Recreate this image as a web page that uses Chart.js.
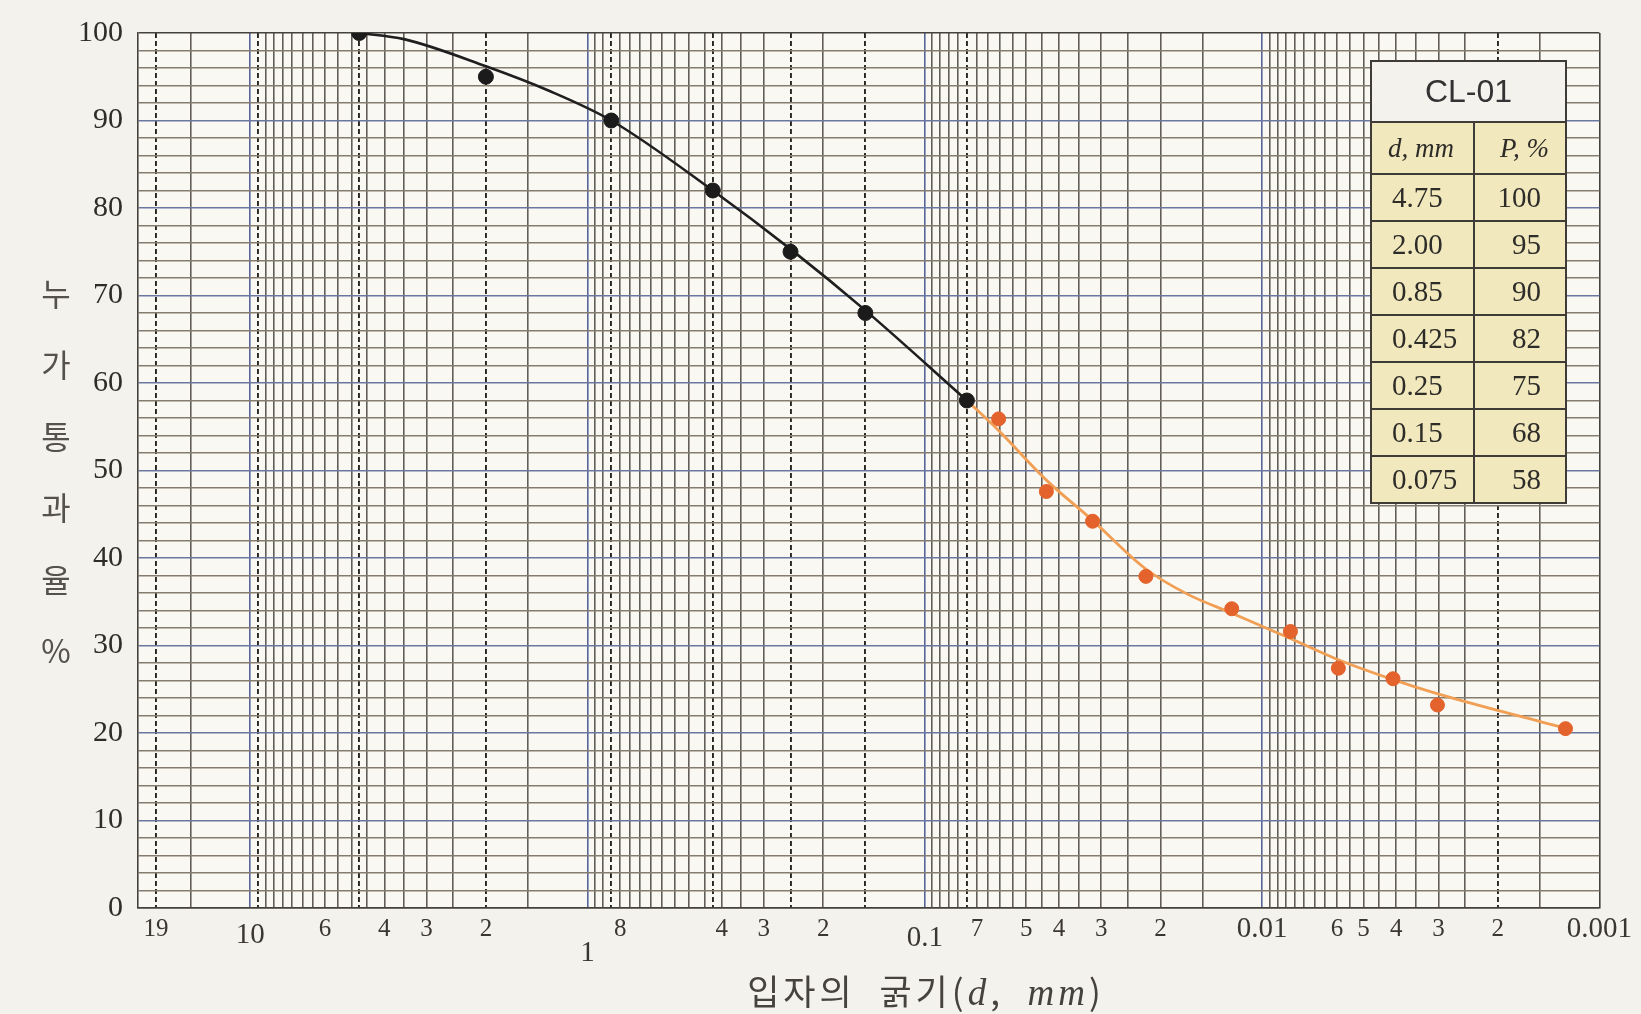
<!DOCTYPE html>
<html>
<head>
<meta charset="utf-8">
<script src="https://cdn.jsdelivr.net/npm/chart.js@4/dist/chart.umd.min.js"></script>
<style>
html,body{margin:0;padding:0;background:#f4f2ec;}
#wrap{position:relative;width:1641px;height:1014px;overflow:hidden;background:#f4f2ec;}
#c{position:absolute;left:0;top:0;}
#ytitle{position:absolute;left:34px;top:257px;width:44px;font-family:'Noto Sans CJK KR',sans-serif;font-size:32px;color:#55524d;text-align:center;line-height:71.4px;}
#xtitle{position:absolute;left:926px;top:964px;transform:translateX(-50%);white-space:nowrap;font-family:'Noto Sans CJK KR',sans-serif;font-size:35px;color:#46433f;letter-spacing:4px;}
#xtitle i{font-family:'Liberation Serif',serif;font-style:italic;font-size:37px;}
#tbl{position:absolute;left:1370px;top:60px;border-collapse:collapse;table-layout:fixed;width:195px;}
#tbl td{border:2px solid #3f3c38;padding:0;font-family:'Liberation Serif',serif;font-size:29px;color:#2e2c29;background:#f1e9bd;}
#tbl td.t{background:#f4f2ec;text-align:center;font-family:'Liberation Sans',sans-serif;font-size:32px;height:59px;color:#333;}
#tbl td.h{font-style:italic;font-size:27px;height:50px;}
#tbl td.c1{text-align:left;padding-left:20px;}
#tbl td.c2{text-align:right;padding-right:24px;}
#tbl tr.r td{height:45px;}
</style>
</head>
<body>
<div id="wrap">
<canvas id="c" width="1641" height="1014"></canvas>
<div id="ytitle"></div>
<div id="xtitle">입자의&nbsp; 굵기(<i>d</i>,&nbsp; <i>mm</i>)</div>
<table id="tbl"></table>
</div>
<script>
// ---- data ----
const sampleName = 'CL-01';
const sieveSizeText = ['4.75', '2.00', '0.85', '0.425', '0.25', '0.15', '0.075'];
const sieveSize = [4.75, 2.00, 0.85, 0.425, 0.25, 0.15, 0.075];
const sievePassing = [100, 95, 90, 82, 75, 68, 58];

const hydroSize = [0.0604, 0.0436, 0.0318, 0.0221, 0.0123, 0.00824, 0.00594, 0.00409, 0.00302, 0.00126];
const hydroPassing = [55.9, 47.6, 44.2, 37.9, 34.2, 31.6, 27.4, 26.2, 23.2, 20.5];

const sieveCurveSize = [4.75, 3.5, 2.0, 1.3, 0.85, 0.425, 0.25, 0.15, 0.075];
const sieveCurvePassing = [100, 99.3, 96.2, 93.4, 90, 82, 75.3, 68.3, 58];

const hydroCurveSize = [0.075, 0.0605, 0.0436, 0.0318, 0.0222, 0.0167, 0.0123, 0.00824, 0.00597, 0.00409, 0.00303, 0.00125];
const hydroCurvePassing = [58, 54.6, 48.9, 44.3, 38.8, 35.9, 33.7, 30.8, 28.4, 26.1, 24.5, 20.5];

const xSolidLines = [15, 10, 9, 8.5, 8, 7.5, 7, 6.5, 6, 5.5, 5, 4.5, 4, 3.5, 3, 2.5, 1.5, 1,
  0.95, 0.9, 0.8, 0.75, 0.7, 0.65, 0.6, 0.55, 0.5, 0.45, 0.4, 0.35, 0.3, 0.2, 0.1,
  0.095, 0.09, 0.085, 0.08, 0.07, 0.065, 0.06, 0.055, 0.05, 0.045, 0.04, 0.035, 0.03, 0.025, 0.02, 0.015, 0.01,
  0.0095, 0.009, 0.0085, 0.008, 0.0075, 0.007, 0.0065, 0.006, 0.0055, 0.005, 0.0045, 0.004, 0.0035, 0.003, 0.0025, 0.0015, 0.001];
const xDashedLines = [19, 9.5, 4.75, 2, 0.85, 0.425, 0.25, 0.15, 0.075, 0.002];
const xDecadeLines = [10, 1, 0.1, 0.01];

const xLabelValues = [19, 10, 6, 4, 3, 2, 1, 0.8, 0.4, 0.3, 0.2, 0.1, 0.07, 0.05, 0.04, 0.03, 0.02, 0.01, 0.006, 0.005, 0.004, 0.003, 0.002, 0.001];
const xLabelTexts = ['19', '10', '6', '4', '3', '2', '1', '8', '4', '3', '2', '0.1', '7', '5', '4', '3', '2', '0.01', '6', '5', '4', '3', '2', '0.001'];

const yMin = 0, yMax = 100, yStep = 2, yLabelStep = 10;
const xMin = 0.001, xMax = 21.5;

const yTitleChars = ['누', '가', '통', '과', '율', '%'];

// ---- helpers ----
const same = (a, b) => Math.abs(Math.log10(a / b)) < 1e-6;
const inList = (v, list) => list.some(d => same(v, d));
const labelIndex = v => xLabelValues.findIndex(d => same(v, d));
const decadeLabels = ['10', '1', '0.1', '0.01', '0.001'];
const labelDrop = { '10': 12, '1': 24, '0.1': 14 };

const allXTicks = [...new Set([...xSolidLines, ...xDashedLines])].sort((a, b) => b - a);

// ---- overlays ----
document.getElementById('ytitle').innerHTML = yTitleChars.map(c => '<div>' + c + '</div>').join('');
(function () {
  let h = '<colgroup><col style="width:103px"><col style="width:92px"></colgroup>';
  h += '<tr><td class="t" colspan="2">' + sampleName + '</td></tr>';
  h += '<tr><td class="h c1" style="padding-left:16px"><i>d</i>, <i>mm</i></td><td class="h c2" style="padding-right:16px"><i>P</i>, %</td></tr>';
  for (let i = 0; i < sieveSize.length; i++) {
    h += '<tr class="r"><td class="c1">' + sieveSizeText[i] + '</td><td class="c2">' + sievePassing[i] + '</td></tr>';
  }
  document.getElementById('tbl').innerHTML = h;
})();

const toXY = (xs, ys) => xs.map((x, i) => ({ x: x, y: ys[i] }));

const bgPlugin = {
  id: 'paper',
  beforeDraw(chart) {
    const { ctx, chartArea: a } = chart;
    ctx.save();
    ctx.fillStyle = '#faf8f2';
    ctx.fillRect(a.left, a.top, a.right - a.left, a.bottom - a.top);
    ctx.restore();
  }
};

new Chart(document.getElementById('c'), {
  type: 'scatter',
  plugins: [bgPlugin],
  data: {
    datasets: [
      {
        label: 'sieve',
        data: toXY(sieveSize, sievePassing),
        pointRadius: 7.5,
        pointBackgroundColor: '#1b1b1b',
        pointBorderColor: '#1b1b1b',
        order: 0
      },
      {
        label: 'hydrometer',
        data: toXY(hydroSize, hydroPassing),
        pointRadius: 7,
        pointBackgroundColor: '#e4622c',
        pointBorderColor: '#e4622c',
        order: 0
      },
      {
        label: 'sieve curve',
        data: toXY(sieveCurveSize, sieveCurvePassing),
        showLine: true,
        pointRadius: 0,
        borderColor: '#1f1f1f',
        borderWidth: 2.6,
        cubicInterpolationMode: 'monotone',
        order: 1
      },
      {
        label: 'hydrometer curve',
        data: toXY(hydroCurveSize, hydroCurvePassing),
        showLine: true,
        pointRadius: 0,
        borderColor: '#f09f55',
        borderWidth: 2.8,
        cubicInterpolationMode: 'monotone',
        order: 1
      }
    ]
  },
  options: {
    responsive: false,
    animation: false,
    devicePixelRatio: 1,
    layout: { padding: { top: 32, right: 33, left: 0, bottom: 0 } },
    plugins: { legend: { display: false }, tooltip: { enabled: false } },
    scales: {
      x: {
        type: 'logarithmic',
        reverse: true,
        min: xMin,
        max: xMax,
        position: 'bottom',
        afterBuildTicks: s => { s.ticks = allXTicks.map(v => ({ value: v })); },
        afterFit: s => { s.height = 106; },
        border: { display: true, color: '#45423e', width: 1.6 },
        grid: {
          drawTicks: false,
          lineWidth: 1.6,
          color: ctx => {
            if (!ctx.tick) return '#5f5a54';
            const v = ctx.tick.value;
            if (inList(v, xDashedLines)) return 'rgba(0,0,0,0)';
            if (same(v, xMin)) return '#45423e';
            if (inList(v, xDecadeLines)) return '#56669a';
            return '#625d57';
          }
        },
        ticks: {
          autoSkip: false,
          maxRotation: 0,
          minRotation: 0,
          padding: 9,
          color: '#3a3733',
          callback: (value) => {
            const i = labelIndex(value);
            if (i < 0) return '';
            const t = xLabelTexts[i];
            return labelDrop[t] ? ['', t] : t;
          },
          font: ctx => {
            const base = { family: "'Liberation Serif', serif", size: 25, lineHeight: '24px' };
            if (!ctx.tick) return base;
            const i = labelIndex(ctx.tick.value);
            if (i < 0) return base;
            const t = xLabelTexts[i];
            if (decadeLabels.includes(t)) {
              return { family: "'Liberation Serif', serif", size: 29, lineHeight: (labelDrop[t] || 24) + 'px' };
            }
            return base;
          }
        }
      },
      xd: {
        type: 'logarithmic',
        reverse: true,
        min: xMin,
        max: xMax,
        position: 'top',
        afterBuildTicks: s => { s.ticks = xDashedLines.map(v => ({ value: v })); },
        afterFit: s => { s.height = 0; },
        border: { display: false, dash: [5, 3] },
        grid: { drawTicks: false, lineWidth: 1.9, color: '#26241f', borderDash: [5, 3] },
        ticks: { display: false }
      },
      y: {
        type: 'linear',
        min: yMin,
        max: yMax,
        afterFit: s => { s.width = 138; },
        border: { display: true, color: '#45423e', width: 1.6 },
        grid: {
          drawTicks: false,
          lineWidth: 1.6,
          color: ctx => {
            if (!ctx.tick) return '#857c70';
            const v = ctx.tick.value;
            if (v === yMin || v === yMax) return '#45423e';
            if (v % yLabelStep === 0) return '#6a77a0';
            return '#857c70';
          }
        },
        ticks: {
          stepSize: yStep,
          autoSkip: false,
          padding: 15,
          color: '#2f2d2a',
          font: { family: "'Liberation Serif', serif", size: 30 },
          callback: v => (v % yLabelStep === 0 ? String(v) : '')
        }
      }
    }
  }
});
</script>
</body>
</html>
